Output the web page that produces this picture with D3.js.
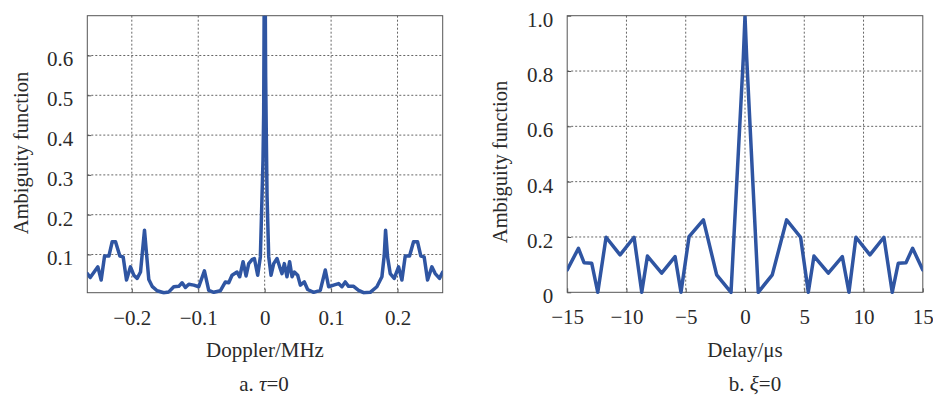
<!DOCTYPE html>
<html>
<head>
<meta charset="utf-8">
<script src="https://cdn.jsdelivr.net/npm/d3@7/dist/d3.min.js"></script>
<style>
  html, body { margin: 0; padding: 0; background: #fff; }
  svg text { font-family: "Liberation Serif", "Times New Roman", serif; fill: #2a2a2a; }
</style>
</head>
<body>
<svg id="chart" width="933" height="399"></svg>
<script>
// Doppler cut of the ambiguity function (tau = 0)
const dopplerMHz = [
  -0.267, -0.2626, -0.2511, -0.2461, -0.241, -0.2345, -0.2295, -0.2245, -0.218, -0.213,
  -0.208, -0.202, -0.197, -0.1919, -0.1869, -0.1809, -0.1779, -0.1744, -0.1694, -0.1619,
  -0.1518, -0.1443, -0.1368, -0.1293, -0.1243, -0.1193, -0.1142, -0.1067, -0.0992, -0.0907,
  -0.0842, -0.0766, -0.0666, -0.0591, -0.0541, -0.0491, -0.0416, -0.0376, -0.0325, -0.028,
  -0.024, -0.019, -0.0155, -0.0105, -0.0065, -0.004, -0.0025, -0.0015, 0, 0.0015,
  0.0026, 0.0036, 0.0061, 0.0096, 0.0136, 0.0186, 0.0226, 0.0261, 0.0296, 0.0336,
  0.0376, 0.0412, 0.0447, 0.0497, 0.0537, 0.0597, 0.0647, 0.0737, 0.0837, 0.0913,
  0.0963, 0.1038, 0.1113, 0.1163, 0.1213, 0.1263, 0.1339, 0.1414, 0.1489, 0.1589,
  0.1689, 0.1765, 0.18, 0.182, 0.185, 0.189, 0.195, 0.2016, 0.2066, 0.2116,
  0.2181, 0.2241, 0.2301, 0.2351, 0.2401, 0.2452, 0.2517, 0.2567, 0.2632, 0.268
];
const dopplerAmb = [
  0.052, 0.042, 0.069, 0.036, 0.096, 0.096, 0.132, 0.132, 0.096, 0.094,
  0.036, 0.069, 0.048, 0.040, 0.056, 0.161, 0.103, 0.037, 0.020, 0.009,
  0.004, 0.006, 0.019, 0.020, 0.029, 0.017, 0.025, 0.023, 0.019, 0.059,
  0.010, 0.005, 0.009, 0.031, 0.029, 0.048, 0.056, 0.044, 0.082, 0.046,
  0.077, 0.087, 0.090, 0.048, 0.094, 0.245, 0.337, 0.454, 1.000, 0.546,
  0.379, 0.245, 0.094, 0.048, 0.077, 0.090, 0.069, 0.052, 0.077, 0.044,
  0.082, 0.044, 0.056, 0.048, 0.023, 0.031, 0.012, 0.005, 0.010, 0.061,
  0.019, 0.023, 0.027, 0.019, 0.031, 0.020, 0.020, 0.010, 0.004, 0.005,
  0.019, 0.044, 0.098, 0.161, 0.094, 0.052, 0.040, 0.069, 0.036, 0.096,
  0.096, 0.132, 0.132, 0.096, 0.094, 0.036, 0.069, 0.052, 0.040, 0.056
];
const dopplerTicks = [-0.2, -0.1, 0, 0.1, 0.2];
const dopplerAmbTicks = [0.1, 0.2, 0.3, 0.4, 0.5, 0.6];

// Delay cut of the ambiguity function (xi = 0)
const delayUs = [
  -15, -14.05, -13.58, -12.93, -12.42, -11.72, -10.54, -9.36, -8.71, -8.23,
  -7.03, -5.9, -5.4, -4.72, -3.51, -2.39, -1.18, -0.14, 0, 0.14,
  1.12, 2.3, 3.51, 4.69, 5.34, 5.82, 7.03, 8.21, 8.77, 9.36,
  10.54, 11.72, 12.42, 12.93, 13.58, 14.14, 15
];
const delayAmb = [
  0.081, 0.159, 0.107, 0.105, 0, 0.199, 0.135, 0.199, 0, 0.131,
  0.069, 0.129, 0, 0.201, 0.262, 0.063, 0, 0.85, 1.0, 0.85,
  0, 0.063, 0.262, 0.199, 0, 0.131, 0.069, 0.129, 0, 0.199,
  0.135, 0.199, 0, 0.105, 0.107, 0.159, 0.081
];
const delayTicks = [-15, -10, -5, 0, 5, 10, 15];
const delayAmbTicks = [0, 0.2, 0.4, 0.6, 0.8, 1.0];

const lineColor = "#2f55a2";
const svg = d3.select("#chart");

function fmtNum(d, digits) {
  const s = digits == null ? String(d) : d.toFixed(digits);
  return s.replace("-", "\u2212");
}

function panel(opts) {
  const { id, xs, ys, xDomain, yDomain, xRange, yRange, xTicks, yTicks,
          xFmt, yFmt, xTitle, yTitleX, yTitleY, caption, captionVar, captionX } = opts;
  const x = d3.scaleLinear().domain(xDomain).range(xRange);
  const y = d3.scaleLinear().domain(yDomain).range(yRange);
  const g = svg.append("g");

  g.append("clipPath").attr("id", id)
    .append("rect")
    .attr("x", xRange[0]).attr("y", yRange[1])
    .attr("width", xRange[1] - xRange[0]).attr("height", yRange[0] - yRange[1] + 2);

  // dotted grid
  g.append("g").selectAll("line").data(xTicks.filter(t => t > xDomain[0] && t < xDomain[1]))
    .join("line")
    .attr("x1", d => x(d)).attr("x2", d => x(d))
    .attr("y1", yRange[1]).attr("y2", yRange[0])
    .attr("stroke", "#666").attr("stroke-width", 1).attr("stroke-dasharray", "2,2");
  g.append("g").selectAll("line").data(yTicks.filter(t => t > yDomain[0] && t < yDomain[1]))
    .join("line")
    .attr("x1", xRange[0]).attr("x2", xRange[1])
    .attr("y1", d => y(d)).attr("y2", d => y(d))
    .attr("stroke", "#666").attr("stroke-width", 1).attr("stroke-dasharray", "2,2");

  // axes with inward ticks
  const xAxis = d3.axisBottom(x).tickValues(xTicks).tickSize(-4).tickPadding(17).tickFormat(xFmt);
  const yAxis = d3.axisLeft(y).tickValues(yTicks).tickSize(-4).tickPadding(14).tickFormat(yFmt);
  const ax = g.append("g").attr("transform", `translate(0,${yRange[0]})`).call(xAxis);
  const ay = g.append("g").attr("transform", `translate(${xRange[0]},0)`).call(yAxis);
  [ax, ay].forEach(a => {
    a.attr("font-family", null).attr("font-size", null);
    a.select(".domain").remove();
    a.selectAll(".tick line").attr("stroke", "#555");
    a.selectAll(".tick text").attr("font-size", 21).attr("fill", "#2a2a2a");
  });
  ax.selectAll(".tick text").attr("dy", "0.71em");
  ay.selectAll(".tick text").attr("dy", "0.5em");

  // frame
  g.append("rect")
    .attr("x", xRange[0]).attr("y", yRange[1])
    .attr("width", xRange[1] - xRange[0]).attr("height", yRange[0] - yRange[1])
    .attr("fill", "none").attr("stroke", "#555").attr("stroke-width", 1);

  // curve
  const pts = xs.map((v, i) => [v, ys[i]]);
  g.append("path")
    .attr("clip-path", `url(#${id})`)
    .attr("d", d3.line().x(d => x(d[0])).y(d => y(d[1]))(pts))
    .attr("fill", "none").attr("stroke", lineColor)
    .attr("stroke-width", 3.5).attr("stroke-linejoin", "round").attr("stroke-linecap", "round");

  // titles
  g.append("text")
    .attr("x", (xRange[0] + xRange[1]) / 2).attr("y", 357)
    .attr("text-anchor", "middle").attr("font-size", 21).text(xTitle);
  g.append("text")
    .attr("transform", `translate(${yTitleX},${yTitleY}) rotate(-90)`)
    .attr("text-anchor", "middle").attr("font-size", 20.5).text("Ambiguity function");
  const cap = g.append("text")
    .attr("x", captionX).attr("y", 391)
    .attr("text-anchor", "middle").attr("font-size", 21);
  cap.append("tspan").text(caption);
  cap.append("tspan").attr("font-style", "italic").text(captionVar);
  cap.append("tspan").text("=0");
}

panel({
  id: "clipA", xs: dopplerMHz, ys: dopplerAmb,
  xDomain: [-0.267, 0.268], yDomain: [0.004, 0.7],
  xRange: [87.3, 442.7], yRange: [292.7, 15.7],
  xTicks: dopplerTicks, yTicks: dopplerAmbTicks,
  xFmt: d => fmtNum(d), yFmt: d => fmtNum(d, 1),
  xTitle: "Doppler/MHz", yTitleX: 28, yTitleY: 153,
  caption: "a. ", captionVar: "\u03c4", captionX: 264
});

panel({
  id: "clipB", xs: delayUs, ys: delayAmb,
  xDomain: [-15, 15], yDomain: [0, 1.0],
  xRange: [567.2, 922.8], yRange: [292.3, 15.7],
  xTicks: delayTicks, yTicks: delayAmbTicks,
  xFmt: d => fmtNum(d), yFmt: d => (d === 0 ? "0" : d.toFixed(1)),
  xTitle: "Delay/\u03bcs", yTitleX: 507, yTitleY: 162,
  caption: "b. ", captionVar: "\u03be", captionX: 755
});
</script>
</body>
</html>
